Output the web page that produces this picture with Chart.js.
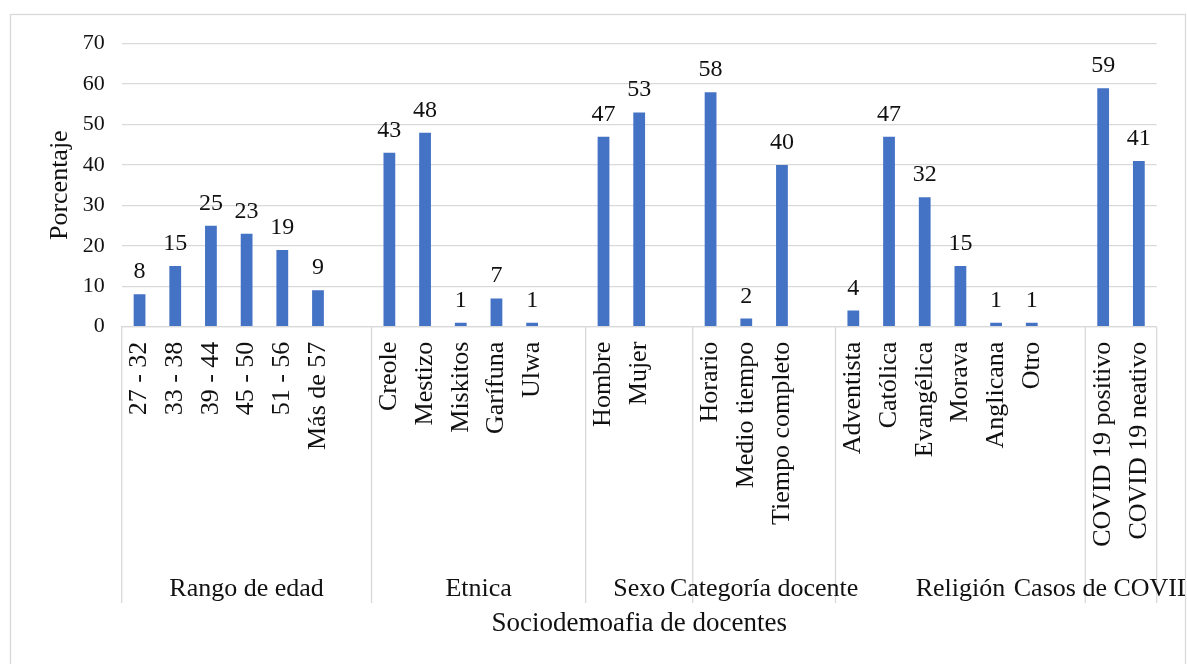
<!DOCTYPE html>
<html>
<head>
<meta charset="utf-8">
<script src="https://cdn.jsdelivr.net/npm/chart.js@4.4.1/dist/chart.umd.min.js"></script>
<style>
  html, body { margin: 0; padding: 0; background: #ffffff; }
  #wrap { position: relative; width: 1187px; height: 664px; }
</style>
</head>
<body>
<div id="wrap"><canvas id="chart" width="1187" height="664"></canvas></div>
<script>
// Sociodemographic profile of teachers (percent), grouped by variable
const groupNames = ['Rango de edad', 'Etnica', 'Sexo', 'Categoría docente', 'Religión', 'Casos de COVID 19'];

const edadLabels = ['27 - 32', '33 - 38', '39 - 44', '45 - 50', '51 - 56', 'Más de 57'];
const edadValues = [8, 15, 25, 23, 19, 9];

const etnicaLabels = ['Creole', 'Mestizo', 'Miskitos', 'Garífuna', 'Ulwa'];
const etnicaValues = [43, 48, 1, 7, 1];

const sexoLabels = ['Hombre', 'Mujer'];
const sexoValues = [47, 53];

const categoriaLabels = ['Horario', 'Medio tiempo', 'Tiempo completo'];
const categoriaValues = [58, 2, 40];

const religionLabels = ['Adventista', 'Católica', 'Evangélica', 'Morava', 'Anglicana', 'Otro'];
const religionValues = [4, 47, 32, 15, 1, 1];

const covidLabels = ['COVID 19 positivo', 'COVID 19 neativo'];
const covidValues = [59, 41];

const yTicks = [0, 10, 20, 30, 40, 50, 60, 70];

// Flatten the groups into one category axis; every group but the last
// is followed by an empty slot, as in the original layout.
const groupLabelSets = [edadLabels, etnicaLabels, sexoLabels, categoriaLabels, religionLabels, covidLabels];
const groupValueSets = [edadValues, etnicaValues, sexoValues, categoriaValues, religionValues, covidValues];

const labels = [];
const values = [];
const groupSpans = []; // [firstIndex, lastIndex] including the spacer slot
groupLabelSets.forEach((set, g) => {
  const start = labels.length;
  set.forEach((lab, i) => { labels.push(lab); values.push(groupValueSets[g][i]); });
  if (g < groupLabelSets.length - 1) { labels.push(''); values.push(null); }
  groupSpans.push([start, labels.length - 1]);
});

const FONT = 'Liberation Serif';
const TEXT = '#111111';
const GRID = '#d9d9d9';

// Outer frame of the chart object
const framePlugin = {
  id: 'frame',
  beforeDraw(chart) {
    const ctx = chart.ctx;
    ctx.save();
    ctx.strokeStyle = GRID;
    ctx.lineWidth = 1.3;
    ctx.strokeRect(10.5, 14.5, 1175, 680);
    ctx.restore();
  }
};

// Value labels above each bar
const valueLabelPlugin = {
  id: 'valueLabels',
  afterDatasetsDraw(chart) {
    const ctx = chart.ctx;
    const meta = chart.getDatasetMeta(0);
    ctx.save();
    ctx.font = '24px "' + FONT + '"';
    ctx.fillStyle = TEXT;
    ctx.textAlign = 'center';
    ctx.textBaseline = 'alphabetic';
    meta.data.forEach((bar, i) => {
      const v = values[i];
      if (v === null || v === undefined) return;
      ctx.fillText(String(v), bar.x, bar.y - 16);
    });
    ctx.restore();
  }
};

// Second category level: group separators and group names
const groupAxisPlugin = {
  id: 'groupAxis',
  afterDraw(chart) {
    const ctx = chart.ctx;
    const xs = chart.scales.x;
    const area = chart.chartArea;
    const half = (xs.getPixelForValue(1) - xs.getPixelForValue(0)) / 2;
    const yTop = area.bottom;
    const yBottom = 603;
    ctx.save();
    ctx.strokeStyle = GRID;
    ctx.lineWidth = 1.3;
    const edges = [];
    groupSpans.forEach(([a, b]) => {
      edges.push([xs.getPixelForValue(a) - half, xs.getPixelForValue(b) + half]);
    });
    const bounds = [edges[0][0]].concat(edges.map(e => e[1]));
    bounds.forEach(x => {
      ctx.beginPath();
      ctx.moveTo(x, yTop);
      ctx.lineTo(x, yBottom);
      ctx.stroke();
    });
    ctx.beginPath();
    ctx.rect(11, 15, 1174, 649);
    ctx.clip();
    ctx.font = '26px "' + FONT + '"';
    ctx.fillStyle = TEXT;
    ctx.textAlign = 'center';
    ctx.textBaseline = 'alphabetic';
    edges.forEach((e, g) => {
      ctx.fillText(groupNames[g], (e[0] + e[1]) / 2, 596);
    });
    ctx.restore();
  }
};

new Chart(document.getElementById('chart'), {
  type: 'bar',
  data: {
    labels: labels,
    datasets: [{
      data: values,
      backgroundColor: '#4472C4',
      borderWidth: 0,
      barPercentage: 0.33,
      categoryPercentage: 1.0
    }]
  },
  options: {
    responsive: false,
    animation: false,
    devicePixelRatio: 1,
    layout: { padding: { left: 10, top: 43.7, right: 30.3, bottom: 0 } },
    plugins: {
      legend: { display: false },
      tooltip: { enabled: false }
    },
    scales: {
      y: {
        min: 0,
        max: 70,
        afterFit(scale) { scale.width = 111.7; },
        afterBuildTicks(scale) { scale.ticks = yTicks.map(v => ({ value: v })); },
        grid: { color: GRID, lineWidth: 1.3, drawTicks: false },
        border: { display: false },
        ticks: {
          padding: 17,
          color: TEXT,
          font: { family: FONT, size: 22 }
        },
        title: {
          display: true,
          text: 'Porcentaje',
          color: TEXT,
          font: { family: FONT, size: 26 },
          padding: { top: 35, bottom: 0 }
        }
      },
      x: {
        afterFit(scale) { scale.height = 664 - 326.7; },
        grid: { display: false, drawTicks: false },
        border: { display: true, color: GRID, width: 1.3 },
        ticks: {
          autoSkip: false,
          minRotation: 90,
          maxRotation: 90,
          padding: 15,
          color: TEXT,
          font: { family: FONT, size: 26 }
        },
        title: {
          display: true,
          text: 'Sociodemoafia de docentes',
          color: TEXT,
          font: { family: FONT, size: 27 },
          padding: { top: 0, bottom: 24 }
        }
      }
    }
  },
  plugins: [framePlugin, valueLabelPlugin, groupAxisPlugin]
});
</script>
</body>
</html>
